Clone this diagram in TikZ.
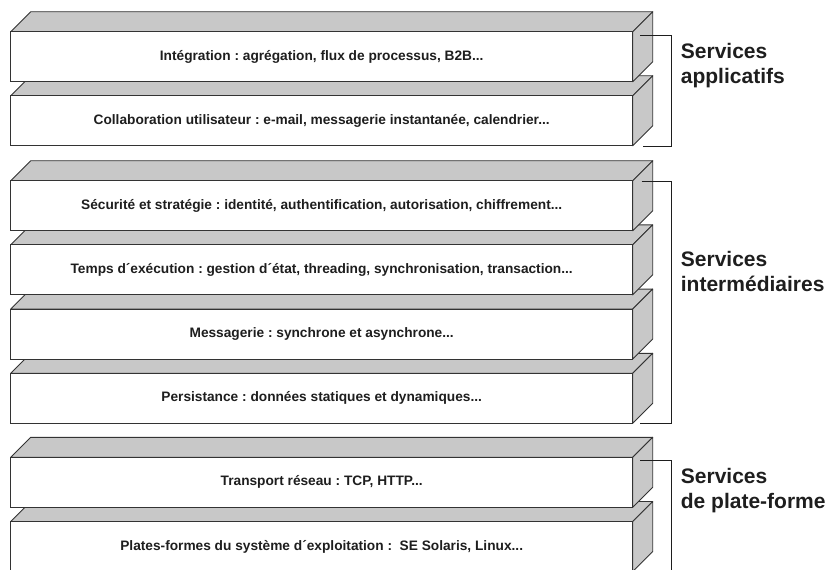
\documentclass[tikz,border=0pt]{standalone}
\usepackage{fontspec}
\setmainfont{Liberation Sans}[BoldFont={Liberation Sans Bold}]
\newfontfamily\heavysans{Liberation Sans Bold}
\usetikzlibrary{calc}
\definecolor{edge}{HTML}{333333}
\definecolor{shade}{HTML}{C8C8C8}
\definecolor{ink}{HTML}{1E1E1E}
\tikzset{
  layerbox/.style={draw=edge, fill=white, line width=0.9pt, anchor=north west,
    minimum width=622pt, minimum height=50pt, inner sep=0pt, outer sep=0pt,
    font=\heavysans\fontsize{13.7}{15}\selectfont, text=ink},
  facetop/.style={draw=edge, fill=shade, line width=0.9pt, line join=round},
  bracketline/.style={draw=ink, line width=1pt},
  grouplabel/.style={anchor=west, align=left, inner sep=0pt, text=ink,
    font=\heavysans\fontsize{21}{25}\selectfont}
}
% one slab of the stack: top face, side face, then the front face with its text
\newcommand{\slab}[3]{%
  \node[layerbox] (#1) at (10.7,#2) {#3};
  \fill[facetop] (#1.north west) -- ++(20,-20) -- ($(#1.north east)+(20,-20)$) -- (#1.north east) -- cycle;
  \fill[facetop] (#1.north east) -- ++(20,-20) -- ++(0,50) -- (#1.south east) -- cycle;
  \node[layerbox] at (10.7,#2) {#3};
}
\begin{document}
\frenchspacing
\begin{tikzpicture}[x=1pt,y=-1pt]
\useasboundingbox (0,0) rectangle (828,570);
\clip (0,0) rectangle (828,570);

% application services
\slab{collab}{95.7}{Collaboration utilisateur : e-mail, messagerie instantanée, calendrier...}
\slab{integ}{31.7}{Intégration : agrégation, flux de processus, B2B...}

% middleware services
\slab{persist}{373.3}{Persistance : données statiques et dynamiques...}
\slab{msg}{309.1}{Messagerie : synchrone et asynchrone...}
\slab{runtime}{244.9}{Temps d´exécution : gestion d´état, threading, synchronisation, transaction...}
\slab{secu}{180.7}{Sécurité et stratégie : identité, authentification, autorisation, chiffrement...}

% platform services
\slab{os}{521.5}{Plates-formes du système d´exploitation :\ \ SE Solaris, Linux...}
\slab{net}{457.3}{Transport réseau : TCP, HTTP...}

% brackets
\coordinate (a1) at (640,35);   \coordinate (a2) at (671,35);
\coordinate (a3) at (671,146.7); \coordinate (a4) at (642.7,146.7);
\draw[bracketline] (a1) -- (a2) -- (a3) -- (a4);

\coordinate (m1) at (641.7,181); \coordinate (m2) at (671,181);
\coordinate (m3) at (671,423.3); \coordinate (m4) at (640,423.3);
\draw[bracketline] (m1) -- (m2) -- (m3) -- (m4);

\coordinate (p1) at (640,460); \coordinate (p2) at (671,460);
\coordinate (p3) at (671,575);
\draw[bracketline] (p1) -- (p2) -- (p3);

% group names
\node[grouplabel, anchor=base west] (gapp) at (680.7,83.3) {Services\\applicatifs};
\node[grouplabel, anchor=base west] (gmid) at (680.7,291.7) {Services\\intermédiaires};
\node[grouplabel, anchor=base west] (gplat) at (680.7,508.3) {Services\\de plate-forme};
\end{tikzpicture}
\end{document}
